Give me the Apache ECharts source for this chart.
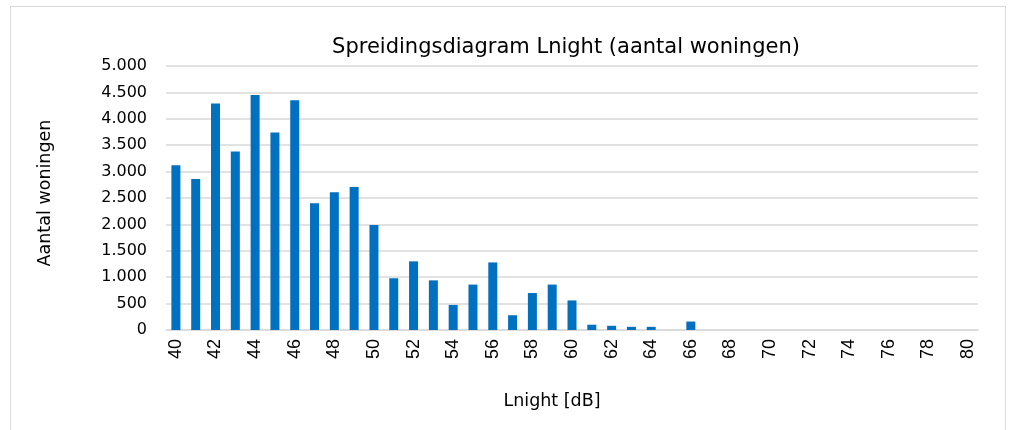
<!DOCTYPE html>
<html><head><meta charset="utf-8">
<script src="https://cdn.jsdelivr.net/npm/echarts@6/dist/echarts.min.js"></script>
<style>html,body{margin:0;padding:0;background:#fff}#c{width:1014px;height:430px}
#frame{position:absolute;left:10px;top:6px;width:996px;height:440px;border:1px solid #d9d9d9;box-sizing:border-box;pointer-events:none}</style>
</head><body><div id="c"></div><div id="frame"></div>
<script>
const categories = ['40','41','42','43','44','45','46','47','48','49','50','51','52','53','54','55','56','57','58','59','60','61','62','63','64','65','66','67','68','69','70','71','72','73','74','75','76','77','78','79','80'];
const woningen = [3120,2860,4290,3380,4450,3740,4350,2400,2610,2710,1990,980,1300,940,475,860,1280,280,700,860,560,100,80,60,60,0,160,0,0,0,0,0,0,0,0,0,0,0,0,0,0];
const yTicks = [0,500,1000,1500,2000,2500,3000,3500,4000,4500,5000];
const titleText = 'Spreidingsdiagram Lnight (aantal woningen)';
const xName = 'Lnight [dB]';
const yName = 'Aantal woningen';

function fmt(v){return String(v).replace(/\B(?=(\d{3})+(?!\d))/g,'.');}
const chart = echarts.init(document.getElementById('c'));
chart.setOption({
  animation:false,
  title:{text:titleText,left:561,top:32,textAlign:'center',textStyle:{fontFamily:'DejaVu Sans',fontWeight:'normal',fontSize:21,color:'#000'}},
  grid:{left:166,right:36,top:66,bottom:100},
  xAxis:{type:'category',data:categories,
    name:xName,nameLocation:'middle',nameGap:62,nameTextStyle:{fontFamily:'DejaVu Sans',fontSize:17.5,color:'#000',padding:[0,40,0,0]},
    axisTick:{show:false},axisLine:{lineStyle:{color:'#d9d9d9',width:1.5}},
    axisLabel:{interval:1,rotate:90,fontFamily:'Liberation Sans',fontSize:18,color:'#000',margin:9}},
  yAxis:{type:'value',min:0,max:5000,interval:500,
    name:yName,nameLocation:'middle',nameGap:112,nameRotate:90,nameTextStyle:{fontFamily:'DejaVu Sans',fontSize:17.5,color:'#000',padding:[0,0,0,10]},
    axisLine:{show:false},axisTick:{show:false},
    splitLine:{lineStyle:{color:'#d9d9d9',width:1.5}},
    axisLabel:{fontFamily:'DejaVu Sans',fontSize:16,color:'#000',margin:19,
      formatter:v=>yTicks.includes(v)?fmt(v):''}},
  series:[{type:'bar',data:woningen,barWidth:9,itemStyle:{color:'#0070C0'}}]
});
</script></body></html>
